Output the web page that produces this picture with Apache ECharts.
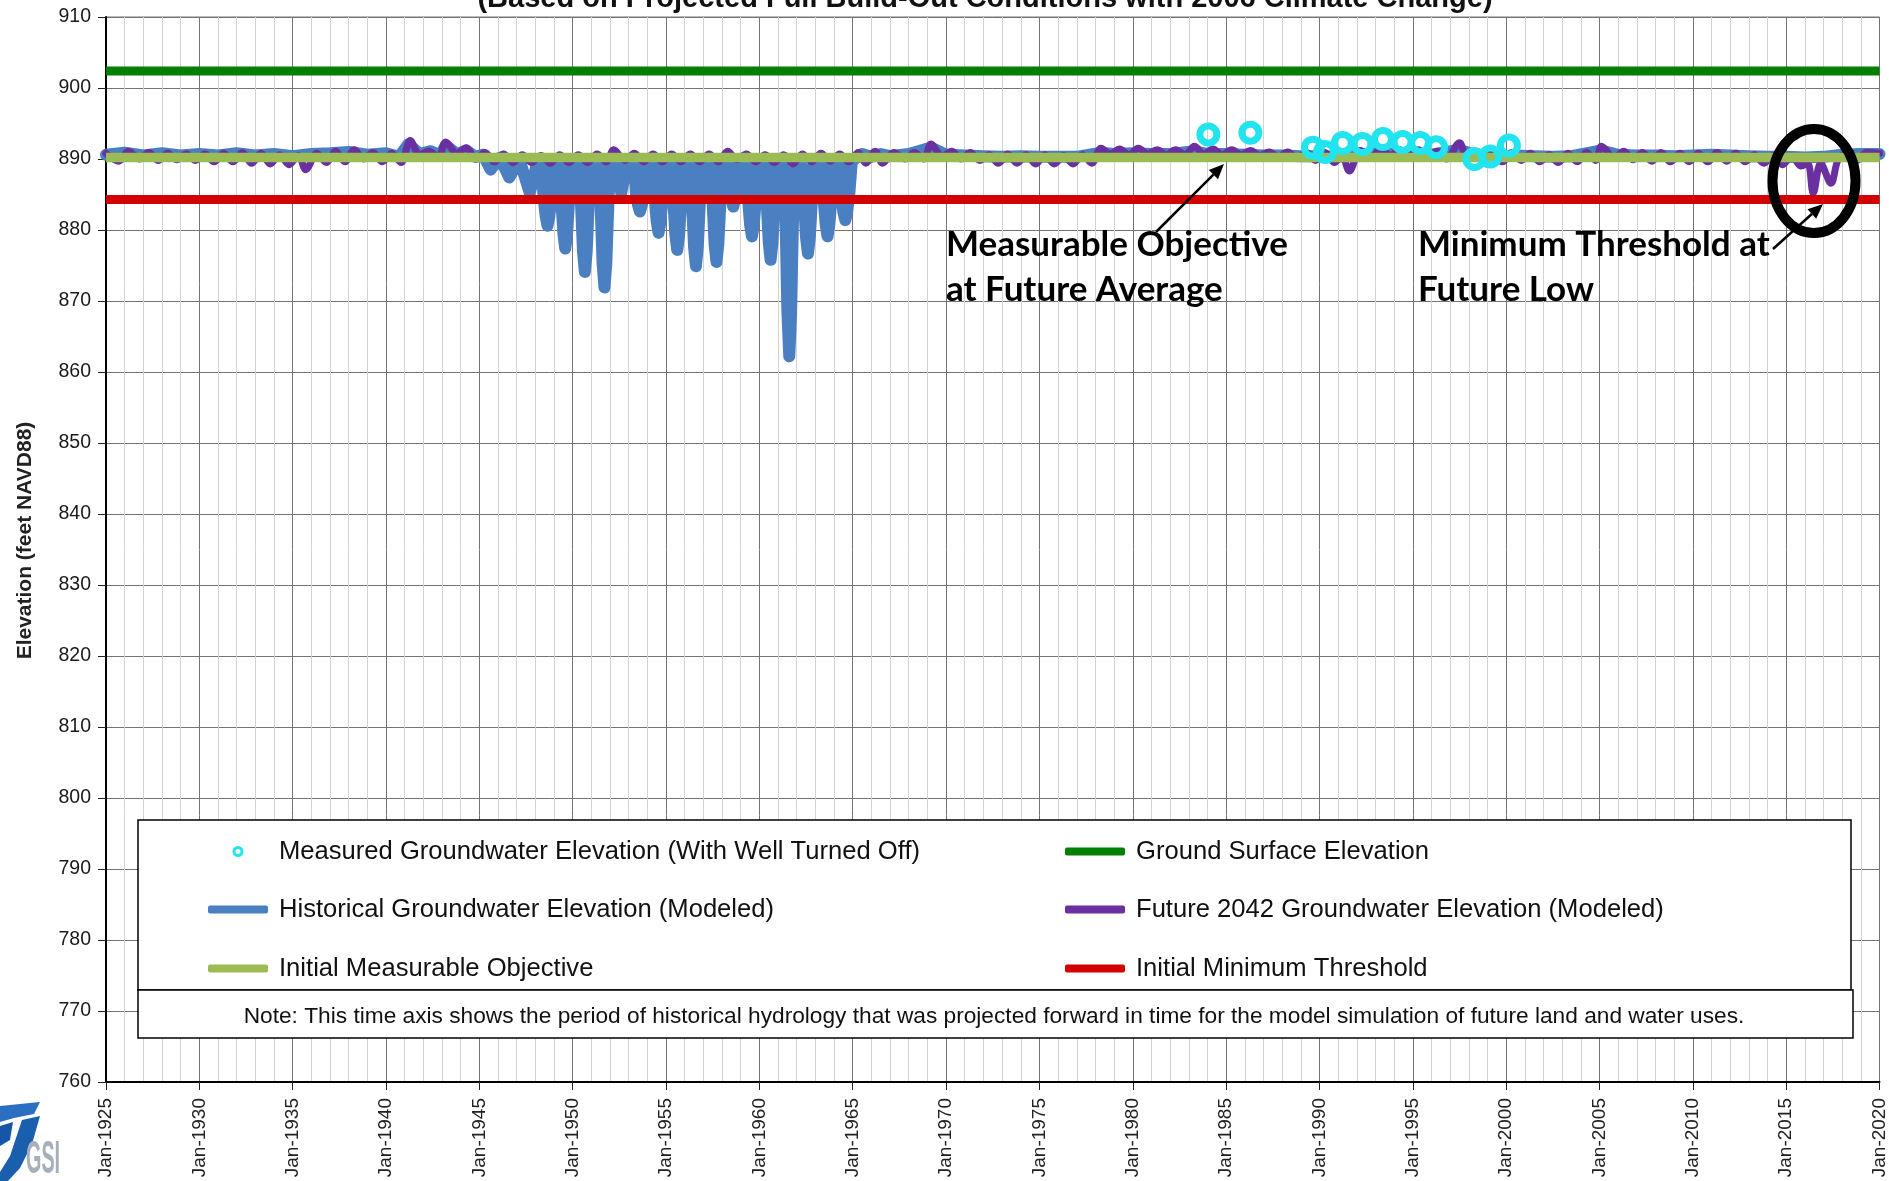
<!DOCTYPE html>
<html>
<head>
<meta charset="utf-8">
<script src="https://cdn.jsdelivr.net/npm/echarts@6/dist/echarts.min.js"></script>
<style>
html,body{margin:0;padding:0;background:#fff;}
#c{width:1889px;height:1181px;}
</style>
</head>
<body>
<div id="c"></div>
<script>
// ---------------- DATA ----------------
const titleText = '(Based on Projected Full Build-Out Conditions with 2006 Climate Change)';
const yAxisName = 'Elevation (feet NAVD88)';
const xTickPrefix = 'Jan-';
const xRange = [1925, 2020];
const yRange = [760, 910];

const seriesNames = {
  measured: 'Measured Groundwater Elevation (With Well Turned Off)',
  ground: 'Ground Surface Elevation',
  historical: 'Historical Groundwater Elevation (Modeled)',
  future: 'Future 2042 Groundwater Elevation (Modeled)',
  objective: 'Initial Measurable Objective',
  threshold: 'Initial Minimum Threshold'
};

const groundSurfaceElevation = 902.4;
const measurableObjective = 890.2;
const minimumThreshold = 884.3;

const measuredYears  = [1984.05, 1986.3, 1989.65, 1990.3, 1991.25, 1992.3, 1993.4, 1994.45, 1995.4, 1996.25, 1998.3, 1999.15, 2000.15];
const measuredValues = [893.45, 893.7, 891.6, 891.0, 892.25, 892.1, 892.8, 892.4, 892.25, 891.65, 890.0, 890.35, 891.9];

const historicalSeries = [
  [1925.0,890.6],[1926.0,890.9],[1927.0,890.5],[1928.0,890.8],[1929.0,890.5],[1930.0,890.7],[1931.0,890.5],[1932.0,890.8],
  [1933.0,890.5],[1934.0,890.7],[1935.0,890.4],[1936.0,890.7],[1937.0,890.8],[1938.0,891.0],[1939.0,890.6],[1940.0,890.8],
  [1940.7,890.3],[1941.2,892.1],[1941.8,890.7],[1942.4,891.1],[1942.9,890.5],[1943.2,891.9],[1943.8,890.7],[1944.3,891.2],
  [1944.8,890.3],[1945.2,890.6],[1945.6,888.5],[1946.1,890.2],[1946.6,887.4],[1947.15,889.9],[1947.7,885.2],[1948.1,889.5],
  [1948.35,889.2],[1948.43,884.9],[1948.55,882.0],[1948.65,880.6],[1948.75,882.0],[1948.87,884.9],[1948.95,889.2],
  [1949.3,889.2],[1949.38,884.8],[1949.5,879.5],[1949.6,877.4],[1949.7,879.5],[1949.82,884.8],[1949.9,889.2],
  [1950.35,889.2],[1950.43,884.6],[1950.55,877.0],[1950.65,874.1],[1950.75,877.0],[1950.87,884.6],[1950.95,889.2],
  [1951.4,889.2],[1951.48,884.5],[1951.6,875.3],[1951.7,871.9],[1951.8,875.3],[1951.92,884.5],[1952.0,889.3],
  [1952.3,889.3],[1952.6,885.2],[1952.9,889.3],
  [1953.3,889.2],[1953.38,885.3],[1953.5,883.5],[1953.6,882.6],[1953.7,883.5],[1953.82,885.3],[1953.9,889.2],
  [1954.3,889.2],[1954.38,884.9],[1954.5,881.2],[1954.6,879.6],[1954.7,881.2],[1954.82,884.9],[1954.9,889.2],
  [1955.3,889.1],[1955.38,884.7],[1955.5,879.3],[1955.6,877.2],[1955.7,879.3],[1955.82,884.7],[1955.9,889.1],
  [1956.3,889.1],[1956.38,884.5],[1956.5,877.6],[1956.6,874.9],[1956.7,877.6],[1956.82,884.5],[1956.9,889.1],
  [1957.4,889.0],[1957.48,884.5],[1957.6,878.0],[1957.7,875.5],[1957.8,878.0],[1957.92,884.5],[1958.0,889.2],
  [1958.3,889.3],[1958.38,885.8],[1958.6,883.3],[1958.82,885.8],[1958.9,889.3],
  [1959.3,889.2],[1959.38,884.8],[1959.5,880.8],[1959.6,879.1],[1959.7,880.8],[1959.82,884.8],[1959.9,889.2],
  [1960.3,889.1],[1960.38,884.5],[1960.5,878.3],[1960.6,875.8],[1960.7,878.3],[1960.82,884.5],[1960.9,889.1],
  [1961.3,889.0],[1961.38,884.2],[1961.5,868.5],[1961.6,862.2],[1961.7,868.5],[1961.82,884.2],[1961.9,888.9],
  [1962.3,888.9],[1962.38,884.5],[1962.5,878.9],[1962.6,876.7],[1962.7,878.9],[1962.82,884.5],[1962.9,889.0],
  [1963.35,889.1],[1963.43,884.8],[1963.55,880.8],[1963.65,879.1],[1963.75,880.8],[1963.87,884.8],[1963.95,889.2],
  [1964.3,889.2],[1964.38,885.2],[1964.5,882.5],[1964.6,881.4],[1964.7,882.5],[1964.82,885.2],[1964.95,889.6],
  [1965.1,890.0],[1965.5,890.7],[1966.0,890.3],[1966.5,890.7],[1967.0,890.4],[1968.0,890.7],[1969.2,891.6],
  [1970.0,890.6],[1971.0,890.5],[1972.0,890.4],[1973.0,890.3],[1974.0,890.4],[1975.0,890.3],[1976.0,890.3],[1977.0,890.3],
  [1978.3,890.9],[1979.0,890.7],[1980.0,890.8],[1981.0,890.7],[1982.0,890.7],[1983.3,891.1],[1984.0,890.7],[1985.0,890.7],
  [1986.0,890.6],[1987.0,890.5],[1988.0,890.5],[1989.0,890.4],[1990.0,890.4],[1991.0,890.3],[1992.0,890.6],[1993.3,890.9],
  [1994.0,890.7],[1995.0,890.7],[1996.0,890.6],[1997.5,891.3],[1998.5,890.4],[1999.5,890.3],[2000.5,890.5],[2001.5,890.4],
  [2002.5,890.3],[2003.5,890.4],[2005.1,891.2],[2006.0,890.6],[2007.0,890.5],[2008.0,890.5],[2009.0,890.4],[2010.0,890.5],
  [2011.0,890.6],[2012.0,890.5],[2013.0,890.4],[2014.0,890.3],[2015.0,890.3],[2016.0,890.2],[2017.0,890.3],[2018.0,890.6],
  [2019.0,890.7],[2020.0,890.7]
];

const futureSeries = [
  [1925.0,890.8],[1925.7,889.7],[1926.2,891.1],[1926.8,890.0],[1927.3,890.9],[1927.8,889.8],[1928.3,890.8],[1928.8,889.9],
  [1929.3,890.7],[1929.8,889.8],[1930.3,890.7],[1930.8,889.6],[1931.3,890.8],[1931.8,889.6],[1932.3,890.9],[1932.8,889.4],
  [1933.3,890.8],[1933.8,889.3],[1934.3,890.6],[1934.8,889.2],[1935.3,890.5],[1935.7,888.5],[1936.3,890.8],[1936.8,889.5],
  [1937.3,891.1],[1937.8,889.6],[1938.3,891.3],[1938.8,890.0],[1939.3,890.9],[1939.8,889.6],[1940.3,890.8],[1940.8,889.5],
  [1941.3,892.6],[1941.8,890.6],[1942.3,891.1],[1942.8,890.2],[1943.2,892.4],[1943.8,890.8],[1944.3,891.6],[1944.8,890.0],
  [1945.3,890.9],[1945.8,889.6],[1946.3,890.7],[1946.8,889.5],[1947.3,890.6],[1947.8,889.5],[1948.3,890.5],[1948.8,889.4],
  [1949.3,890.6],[1949.8,889.5],[1950.3,890.6],[1950.8,889.5],[1951.3,890.7],[1951.8,889.6],[1952.2,891.3],[1952.8,889.8],
  [1953.3,890.8],[1953.8,889.6],[1954.3,890.7],[1954.8,889.6],[1955.3,890.7],[1955.8,889.6],[1956.3,890.7],[1956.8,889.6],
  [1957.3,890.7],[1957.8,889.6],[1958.3,891.1],[1958.8,889.9],[1959.3,890.7],[1959.8,889.6],[1960.3,890.6],[1960.8,889.5],
  [1961.3,890.6],[1961.8,889.3],[1962.3,890.7],[1962.8,889.6],[1963.3,890.8],[1963.8,889.7],[1964.3,890.7],[1964.8,889.6],
  [1965.3,890.9],[1965.7,889.4],[1966.2,891.1],[1966.6,889.4],[1967.2,890.9],[1967.8,890.0],[1968.3,890.9],[1968.8,890.0],
  [1969.2,892.1],[1969.8,890.4],[1970.3,891.1],[1970.8,890.0],[1971.3,890.9],[1971.8,889.8],[1972.3,890.6],[1972.8,889.4],
  [1973.3,890.7],[1973.8,889.4],[1974.3,890.6],[1974.8,889.3],[1975.3,890.6],[1975.8,889.3],[1976.3,890.5],[1976.8,889.3],
  [1977.3,890.6],[1977.8,889.4],[1978.3,891.5],[1978.8,890.7],[1979.3,891.4],[1979.8,890.6],[1980.3,891.5],[1980.8,890.7],
  [1981.3,891.3],[1981.8,890.6],[1982.3,891.3],[1982.8,890.6],[1983.3,891.8],[1983.8,890.7],[1984.3,891.4],[1984.8,890.6],
  [1985.3,891.3],[1985.8,890.6],[1986.3,891.2],[1986.8,890.5],[1987.3,891.0],[1987.8,890.3],[1988.3,891.0],[1988.8,890.1],
  [1989.3,890.9],[1989.8,889.8],[1990.3,890.9],[1990.8,889.5],[1991.2,890.5],[1991.6,888.3],[1992.2,891.2],[1992.8,890.3],
  [1993.3,891.4],[1993.8,890.5],[1994.3,891.3],[1994.8,890.4],[1995.3,891.3],[1995.8,890.3],[1996.3,891.1],[1996.8,890.0],
  [1997.5,892.3],[1997.9,890.3],[1998.3,890.9],[1998.8,889.6],[1999.3,890.8],[1999.8,889.6],[2000.3,890.9],[2000.8,889.8],
  [2001.3,890.8],[2001.8,889.6],[2002.3,890.6],[2002.8,889.5],[2003.3,890.8],[2003.8,889.6],[2004.3,890.9],[2004.8,889.8],
  [2005.1,891.8],[2005.8,890.2],[2006.3,891.1],[2006.8,889.9],[2007.3,890.9],[2007.8,889.7],[2008.3,890.9],[2008.8,889.6],
  [2009.3,890.8],[2009.8,889.6],[2010.3,890.8],[2010.8,889.6],[2011.3,890.9],[2011.8,889.7],[2012.3,890.8],[2012.8,889.6],
  [2013.3,890.6],[2013.8,889.4],[2014.3,890.5],[2014.8,889.2],[2015.3,890.4],[2015.8,889.0],[2016.15,889.4],[2016.45,885.2],
  [2016.85,889.4],[2017.4,886.6],[2017.8,890.0],[2018.3,890.8],[2018.8,889.8],[2019.3,890.9],[2020.0,890.8]
];

const noteText = 'Note: This time axis shows the period of historical hydrology that was projected forward in time for the model simulation of future land and water uses.';
const annotation1 = ['Measurable Objective', 'at Future Average'];
const annotation2 = ['Minimum Threshold at', 'Future Low'];

// ---------------- STYLE ----------------
const FONT = '"Liberation Sans", Arial, Helvetica, sans-serif';
const C = {
  blue: '#4a7fc1', purple: '#6a2fa0', olive: '#9bbb55', red: '#d20000', green: '#008000', cyan: '#22e4ee'
};
const LEG_FONT = 25.6;

const hline = v => [[xRange[0], v], [xRange[1], v]];
const measuredData = measuredYears.map((y, i) => [y, measuredValues[i]]);

function lineLegend(name, left, cy) {
  return {
    show: true, selectedMode: false, orient: 'vertical', left: left, top: cy - 15, padding: 0,
    itemWidth: 60, itemHeight: 8, icon: 'roundRect', data: [name],
    itemStyle: { borderWidth: 0 },
    textStyle: { fontFamily: FONT, fontSize: LEG_FONT, color: '#111', lineHeight: 30, padding: [0, 0, 0, 6] },
    z: 10
  };
}

const chart = echarts.init(document.getElementById('c'), null, { renderer: 'canvas' });

function arrow(x1, y1, x2, y2) {
  const dx = x2 - x1, dy = y2 - y1, L = Math.hypot(dx, dy);
  const ux = dx / L, uy = dy / L, hl = 15, hw = 6.5;
  const bx = x2 - ux * hl, by = y2 - uy * hl;
  return [
    { type: 'line', shape: { x1: x1, y1: y1, x2: bx, y2: by }, style: { stroke: '#000', lineWidth: 2.5 }, z: 20 },
    { type: 'polygon', shape: { points: [[x2, y2], [bx - uy * hw, by + ux * hw], [bx + uy * hw, by - ux * hw]] }, style: { fill: '#000' }, z: 20 }
  ];
}

const annFont = 'bold 35px Lato, "Open Sans", sans-serif';

const option = {
  animation: false,
  backgroundColor: '#fff',
  grid: { left: 106, right: 3, top: 17, bottom: 99, show: true, borderColor: '#777', borderWidth: 1, containLabel: false },
  xAxis: {
    type: 'value', min: xRange[0], max: xRange[1], interval: 5,
    axisLine: { show: true, onZero: false, lineStyle: { color: '#000', width: 2 } },
    axisTick: { show: true, length: 8, lineStyle: { color: '#222', width: 1 } },
    axisLabel: { rotate: 90, margin: 16, fontFamily: FONT, fontSize: 19, color: '#222', formatter: v => xTickPrefix + v },
    splitLine: { show: true, lineStyle: { color: '#747474', width: 1 } },
    minorTick: { show: false, splitNumber: 5 },
    minorSplitLine: { show: true, lineStyle: { color: '#d2d2d2', width: 1 } }
  },
  yAxis: {
    type: 'value', min: yRange[0], max: yRange[1], interval: 10,
    name: yAxisName, nameLocation: 'middle', nameGap: 70,
    nameTextStyle: { fontFamily: FONT, fontSize: 21, fontWeight: 'bold', color: '#222', padding: [0, 0, 0, 18] },
    axisLine: { show: true, onZero: false, lineStyle: { color: '#000', width: 2 } },
    axisTick: { show: true, length: 8, lineStyle: { color: '#222', width: 1 } },
    axisLabel: { margin: 15, fontFamily: FONT, fontSize: 19.5, color: '#1a1a1a' },
    splitLine: { show: true, lineStyle: { color: '#747474', width: 1 } }
  },
  legend: [
    {
      show: true, selectedMode: false, orient: 'vertical', left: 232.5, top: 851.5 - 15, padding: 0,
      itemWidth: 60, itemHeight: 8,
      data: [{ name: seriesNames.measured, icon: 'circle', itemStyle: { color: '#ffffff', borderColor: C.cyan, borderWidth: 3 } }],
      textStyle: { fontFamily: FONT, fontSize: LEG_FONT, color: '#111', lineHeight: 30, padding: [0, 0, 0, 6] },
      z: 10
    },
    lineLegend(seriesNames.historical, 208, 909.5),
    lineLegend(seriesNames.objective, 208, 968.5),
    lineLegend(seriesNames.ground, 1065, 851.5),
    lineLegend(seriesNames.future, 1065, 909.5),
    lineLegend(seriesNames.threshold, 1065, 968.5)
  ],
  series: [
    { name: seriesNames.historical, type: 'line', data: historicalSeries, symbol: 'none', showSymbol: false,
      color: C.blue, itemStyle: { color: C.blue },
      lineStyle: { color: C.blue, width: 12, cap: 'round', join: 'round' }, z: 2 },
    { name: seriesNames.future, type: 'line', data: futureSeries, symbol: 'none', showSymbol: false,
      smooth: 0.35, color: C.purple, itemStyle: { color: C.purple },
      lineStyle: { color: C.purple, width: 7, cap: 'round', join: 'round' }, z: 3 },
    { name: seriesNames.objective, type: 'line', data: hline(measurableObjective), symbol: 'none', showSymbol: false,
      color: C.olive, itemStyle: { color: C.olive },
      lineStyle: { color: C.olive, width: 9.5 }, z: 4 },
    { name: seriesNames.threshold, type: 'line', data: hline(minimumThreshold), symbol: 'none', showSymbol: false,
      color: C.red, itemStyle: { color: C.red },
      lineStyle: { color: C.red, width: 9 }, z: 5 },
    { name: seriesNames.ground, type: 'line', data: hline(groundSurfaceElevation), symbol: 'none', showSymbol: false,
      color: C.green, itemStyle: { color: C.green },
      lineStyle: { color: C.green, width: 9 }, z: 6 },
    { name: seriesNames.measured, type: 'scatter', data: measuredData, symbol: 'circle', symbolSize: 17,
      color: C.cyan,
      itemStyle: { color: 'rgba(0,0,0,0)', borderColor: C.cyan, borderWidth: 7, opacity: 1 }, z: 7 }
  ],
  graphic: [
    { type: 'text', x: 985, y: -1, z: 20,
      style: { text: titleText, font: 'bold 29px "Liberation Sans", Arial, sans-serif', fill: '#111', align: 'center', verticalAlign: 'middle' } },
    { type: 'rect', z: 8, shape: { x: 138, y: 820, width: 1713, height: 170 }, style: { fill: '#fff', stroke: '#000', lineWidth: 1.5 } },
    { type: 'rect', z: 8, shape: { x: 138, y: 990, width: 1715, height: 48 }, style: { fill: '#fff', stroke: '#000', lineWidth: 1.5 } },
    { type: 'text', x: 994, y: 1016.5, z: 9,
      style: { text: noteText, font: '22.7px "Liberation Sans", Arial, sans-serif', fill: '#111', align: 'center', verticalAlign: 'middle' } },
    { type: 'text', x: 946, y: 245, z: 20, style: { text: annotation1[0], font: annFont, fill: '#000', align: 'left', verticalAlign: 'middle' } },
    { type: 'text', x: 946, y: 290, z: 20, style: { text: annotation1[1], font: annFont, fill: '#000', align: 'left', verticalAlign: 'middle' } },
    { type: 'text', x: 1418, y: 245, z: 20, style: { text: annotation2[0], font: annFont, fill: '#000', align: 'left', verticalAlign: 'middle' } },
    { type: 'text', x: 1418, y: 290, z: 20, style: { text: annotation2[1], font: annFont, fill: '#000', align: 'left', verticalAlign: 'middle' } },
    ...arrow(1156, 232, 1224, 164),
    ...arrow(1773, 249, 1823, 204),
    { type: 'ellipse', z: 20, shape: { cx: 1814, cy: 181, rx: 41.5, ry: 52 }, style: { fill: 'none', stroke: '#000', lineWidth: 10 } },
    // GSI logo (bottom-left)
    { type: 'polygon', z: 20, shape: { points: [[0, 1106], [40, 1102], [34, 1114], [14, 1118], [0, 1122]] }, style: { fill: '#2a6fc0' } },
    { type: 'polygon', z: 20, shape: { points: [[0, 1126], [13, 1122], [10, 1140], [0, 1146]] }, style: { fill: '#1556a6' } },
    { type: 'polygon', z: 20, shape: { points: [[22, 1120], [40, 1116], [32, 1144], [20, 1168], [8, 1181], [0, 1181], [0, 1172], [10, 1156]] }, style: { fill: '#1a5fae' } },
    { type: 'text', x: 26, y: 1160, z: 20, scaleX: 0.43,
      style: { text: 'GSI', font: 'bold 46px "Liberation Sans", Arial, sans-serif', fill: '#a6b0bb', align: 'left', verticalAlign: 'middle' } }
  ]
};

chart.setOption(option);
</script>
</body>
</html>
